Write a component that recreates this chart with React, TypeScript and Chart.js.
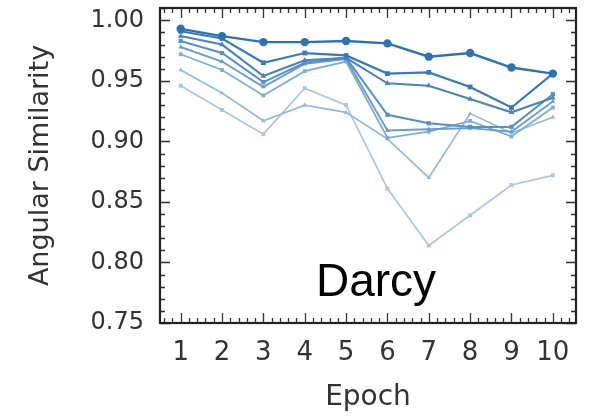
import React, { useEffect, useRef } from "react";
import { Chart, registerables } from "chart.js";

Chart.register(...registerables);

const epochs = [1, 2, 3, 4, 5, 6, 7, 8, 9, 10];
const s1 = [0.993, 0.987, 0.982, 0.982, 0.983, 0.981, 0.970, 0.973, 0.961, 0.956];
const s2 = [0.991, 0.985, 0.965, 0.973, 0.971, 0.956, 0.957, 0.945, 0.928, 0.956];
const s3 = [0.987, 0.980, 0.954, 0.967, 0.969, 0.948, 0.946, 0.935, 0.924, 0.936];
const s4 = [0.983, 0.973, 0.949, 0.965, 0.969, 0.922, 0.915, 0.912, 0.912, 0.939];
const s5 = [0.978, 0.966, 0.945, 0.964, 0.968, 0.909, 0.910, 0.911, 0.908, 0.933];
const s6 = [0.972, 0.959, 0.938, 0.958, 0.966, 0.903, 0.908, 0.917, 0.904, 0.928];
const s7 = [0.959, 0.940, 0.917, 0.930, 0.924, 0.902, 0.870, 0.923, 0.907, 0.920];
const s8 = [0.946, 0.926, 0.906, 0.944, 0.930, 0.861, 0.814, 0.839, 0.864, 0.872];
const seriesList = [s1, s2, s3, s4, s5, s6, s7, s8];
const seriesColors = ["#2f72b0", "#3a7bb6", "#4785bc", "#5791c3", "#6a9eca", "#7fadd2", "#93bada", "#a8c7e1"];
const seriesMarkers = ["circle", "rect", "triangle", "rect", "triangle", "rect", "triangle", "rect"];
const seriesRadius = [4.2, 3.4, 3.2, 3, 2.8, 2.7, 2.6, 2.8];
const seriesWidth = [2.4, 2.2, 2.1, 2, 1.9, 1.8, 1.7, 1.7];
const yTicks = [0.75, 0.8, 0.85, 0.9, 0.95, 1.0];
const xTicks = [1, 2, 3, 4, 5, 6, 7, 8, 9, 10];

const frame = {
  id: "frame",
  afterDraw(chart: any) {
    const { ctx, chartArea: a, scales } = chart;
    const xs = scales.x;
    const ys = scales.y;
    ctx.save();
    ctx.strokeStyle = "#333";
    ctx.lineWidth = 1.3;
    const major = 10;
    const minor = 5;
    ctx.beginPath();
    for (let v = 0.75; v <= 1.0101; v += 0.01) {
      const y = Math.round(ys.getPixelForValue(v)) + 0.5;
      const isMajor = Math.abs(Math.round(v * 100) % 5) === 0;
      const len = isMajor ? major : minor;
      ctx.moveTo(a.left, y);
      ctx.lineTo(a.left + len, y);
      ctx.moveTo(a.right, y);
      ctx.lineTo(a.right - len, y);
    }
    for (let v = 0.6; v <= 10.5; v += 0.2) {
      const x = Math.round(xs.getPixelForValue(v)) + 0.5;
      const isMajor = Math.abs(v - Math.round(v)) < 1e-6;
      const len = isMajor ? major : minor;
      ctx.moveTo(x, a.bottom);
      ctx.lineTo(x, a.bottom - len);
      ctx.moveTo(x, a.top);
      ctx.lineTo(x, a.top + len);
    }
    ctx.stroke();
    ctx.lineWidth = 2.2;
    ctx.strokeStyle = "#222";
    ctx.strokeRect(a.left, a.top, a.right - a.left, a.bottom - a.top);
    ctx.fillStyle = "#000";
    ctx.font = '46px "Liberation Sans", Arial, sans-serif';
    ctx.textAlign = "center";
    ctx.textBaseline = "alphabetic";
    ctx.fillText("Darcy", 376, 296);
    ctx.restore();
  },
};

export default function App() {
  const ref = useRef<HTMLCanvasElement | null>(null);
  useEffect(() => {
    if (!ref.current) return;
    const datasets = seriesList.map((s, i) => ({
      label: "S" + (i + 1),
      data: epochs.map((e, j) => ({ x: e, y: s[j] })),
      borderColor: seriesColors[i],
      backgroundColor: seriesColors[i],
      borderWidth: seriesWidth[i],
      pointStyle: seriesMarkers[i] as any,
      pointRadius: seriesRadius[i],
      pointBorderWidth: 0,
      tension: 0,
      fill: false,
    }));
    const chart = new Chart(ref.current, {
      type: "line",
      data: { datasets },
      plugins: [frame],
      options: {
        animation: false,
        responsive: false,
        events: [],
        layout: { padding: { top: 8, right: 14, left: 0, bottom: 0 } },
        plugins: { legend: { display: false }, tooltip: { enabled: false } },
        scales: {
          x: {
            type: "linear",
            min: 0.5,
            max: 10.56,
            afterFit: (s: any) => {
              s.height = 97;
              s.paddingLeft = 0;
              s.paddingRight = 0;
            },
            afterBuildTicks: (s: any) => {
              s.ticks = xTicks.map((v) => ({ value: v }));
            },
            grid: { display: false, drawTicks: false },
            border: { display: false },
            ticks: {
              padding: 15,
              color: "#333",
              font: { family: "DejaVu Sans", size: 26 },
              callback: (v: any) => String(v),
              maxRotation: 0,
            },
            title: {
              display: true,
              text: "Epoch",
              color: "#333",
              font: { family: "DejaVu Sans", size: 28 },
              padding: { top: 0, bottom: 5 },
            },
          },
          y: {
            type: "linear",
            min: 0.75,
            max: 1.0102,
            afterFit: (s: any) => {
              s.width = 160;
              s.paddingTop = 0;
              s.paddingBottom = 0;
            },
            afterBuildTicks: (s: any) => {
              s.ticks = yTicks.map((v) => ({ value: v }));
            },
            grid: { display: false, drawTicks: false },
            border: { display: false },
            ticks: {
              padding: 16,
              color: "#333",
              font: { family: "DejaVu Sans", size: 24 },
              callback: (v: any) => Number(v).toFixed(2),
            },
            title: {
              display: true,
              text: "Angular Similarity",
              color: "#333",
              font: { family: "DejaVu Sans", size: 27 },
              padding: { top: 25, bottom: 0 },
            },
          },
        },
      },
    });
    return () => chart.destroy();
  }, []);
  return (
    <div style={{ position: "fixed", left: 0, top: 0, width: 590, height: 420, background: "#fff" }}>
      <canvas ref={ref} width={590} height={420} style={{ width: 590, height: 420 }} />
    </div>
  );
}
